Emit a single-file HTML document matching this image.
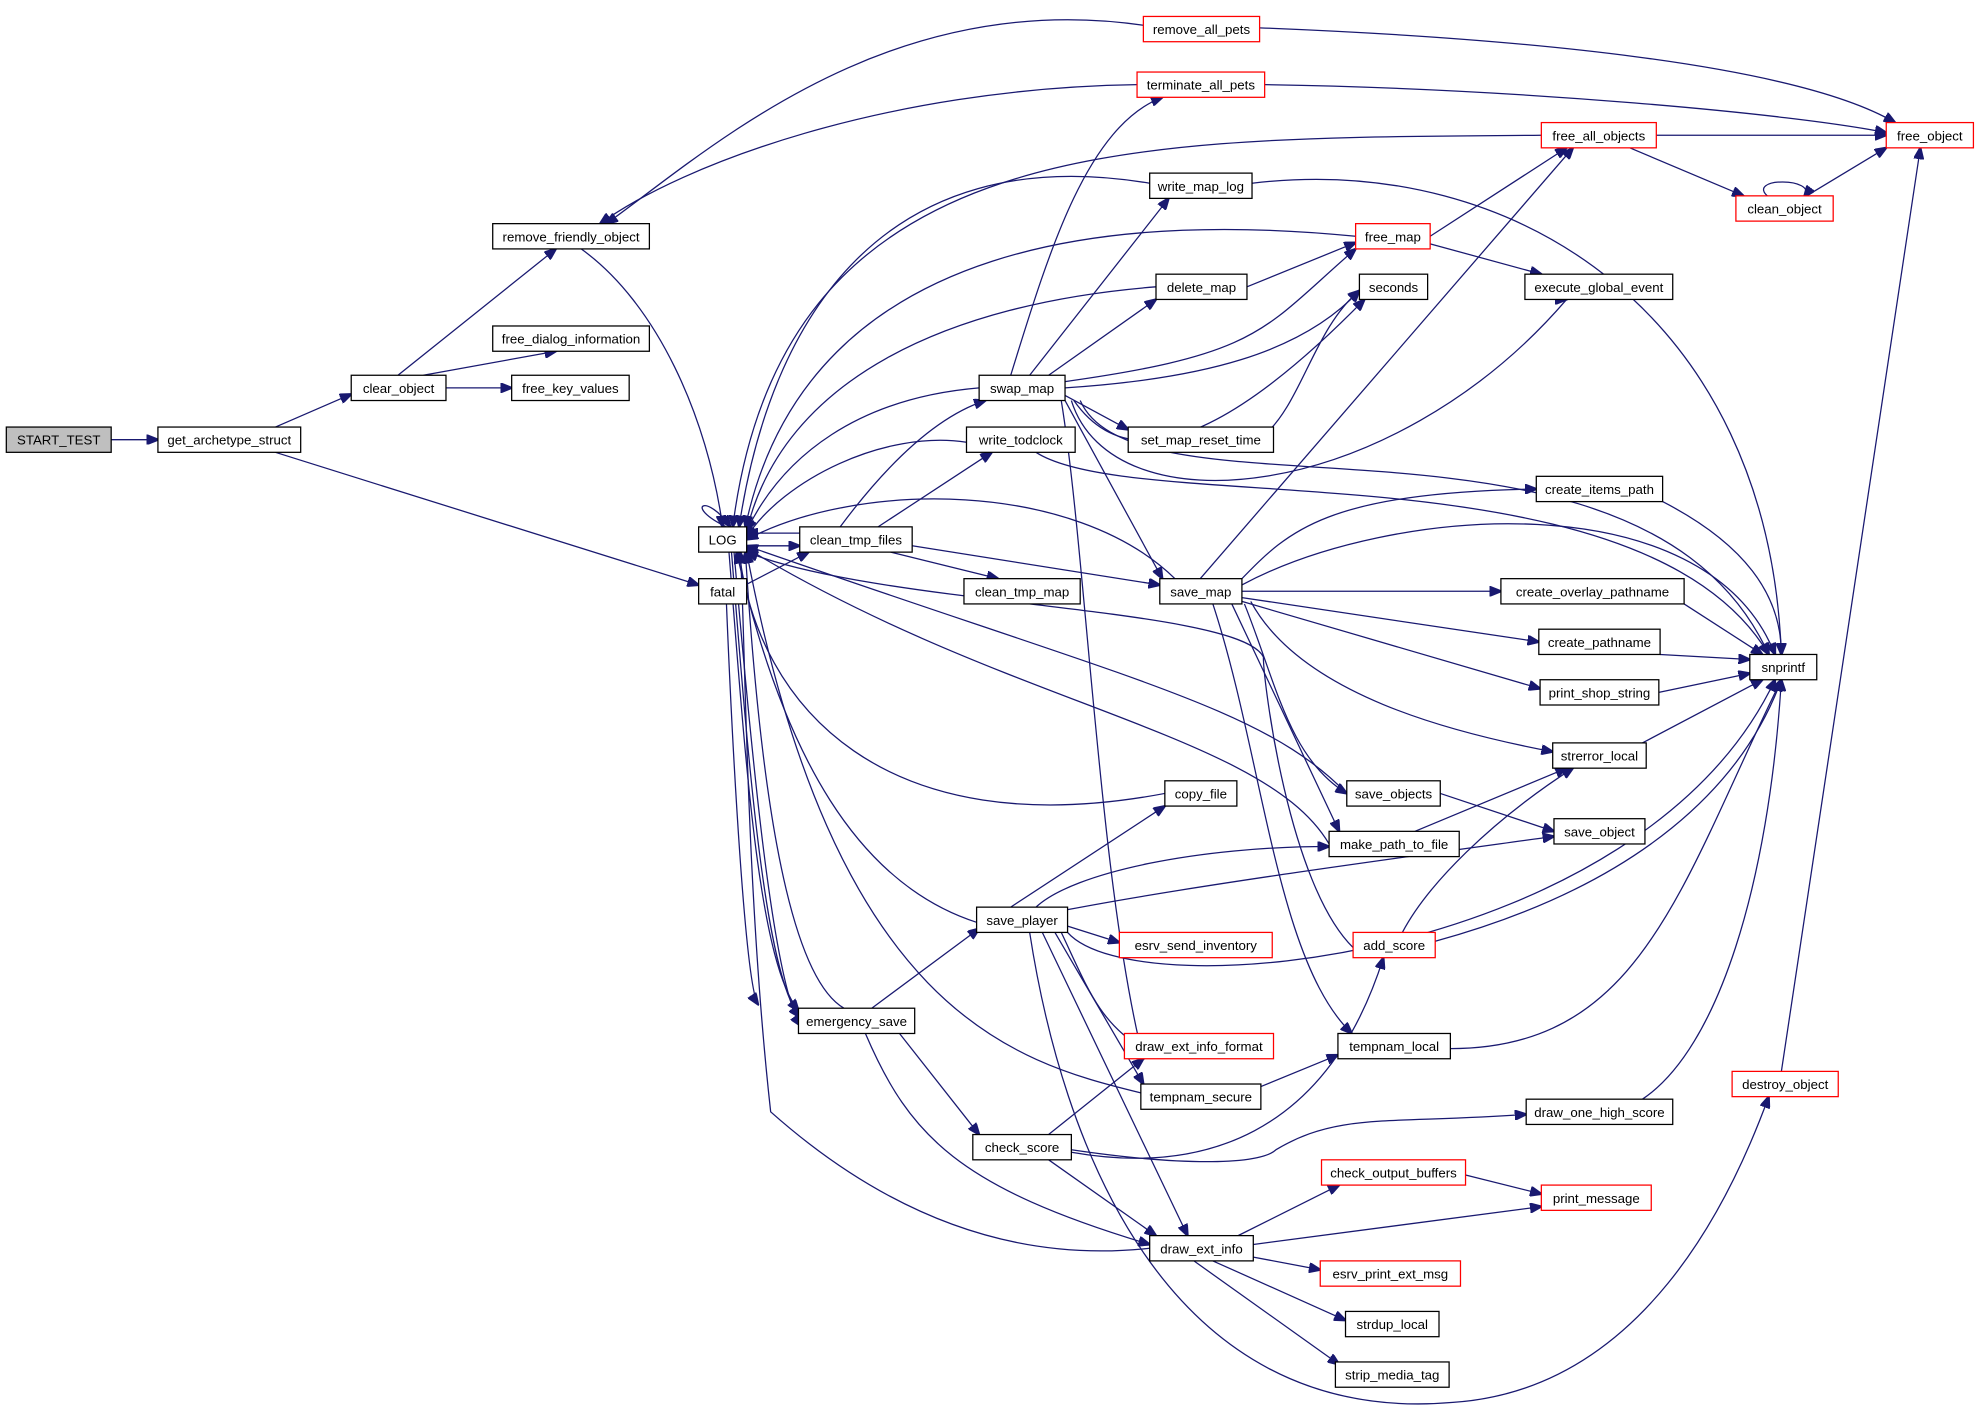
<!DOCTYPE html>
<html><head><meta charset="utf-8"><style>
html,body{margin:0;padding:0;background:#fff;}
svg text{font-family:"Liberation Sans",sans-serif;font-size:10.5px;text-anchor:middle;fill:#000;}
.n{fill:#fff;stroke:#000;stroke-width:1;}
.r{fill:#fff;stroke:#ff0000;stroke-width:1;}
.e{fill:none;stroke:#191970;stroke-width:1;}
</style></head><body>
<svg width="1981" height="1422" viewBox="0 0 1568 1125.5" xmlns="http://www.w3.org/2000/svg">
<defs><marker id="a" markerWidth="10" markerHeight="8" refX="9" refY="4" orient="auto" markerUnits="userSpaceOnUse"><path d="M0,0 L10,4 L0,8 z" fill="#191970" stroke="#191970"/></marker></defs>
<g marker-end="url(#a)">
<path class="e" d="M88,348 L125,348"/>
<path class="e" d="M218,338 L278,312"/>
<path class="e" d="M218,358 L553,463"/>
<path class="e" d="M315,297 L440,197"/>
<path class="e" d="M335,297 L440,278"/>
<path class="e" d="M353,307 L405,307"/>
<path class="e" d="M460,197 C520,240 560,330 572,417"/>
<path class="e" d="M575,417 C540,400 560,390 578,417"/>
<path class="e" d="M575,478 C580,600 590,780 600,795"/>
<path class="e" d="M590,463 L640,437"/>
<path class="e" d="M633,422 L591,422"/>
<path class="e" d="M591,432 L633,432"/>
<path class="e" d="M665,417 C700,370 740,330 780,317"/>
<path class="e" d="M695,417 L785,358"/>
<path class="e" d="M722,432 L918,463"/>
<path class="e" d="M705,437 L790,458"/>
<path class="e" d="M905,20 C700,-10 560,120 480,177"/>
<path class="e" d="M900,67 C700,70 540,130 475,177"/>
<path class="e" d="M997,22 C1200,30 1420,50 1500,97"/>
<path class="e" d="M1001,67 C1200,70 1420,90 1493,105"/>
<path class="e" d="M1220,107 C900,110 620,100 580,417"/>
<path class="e" d="M1311,107 L1493,107"/>
<path class="e" d="M1290,117 L1380,155"/>
<path class="e" d="M1430,155 L1493,117"/>
<path class="e" d="M1400,156 C1380,140 1440,140 1428,156"/>
<path class="e" d="M910,145 C700,110 610,250 585,417"/>
<path class="e" d="M991,145 C1200,120 1400,250 1410,518"/>
<path class="e" d="M1073,187 C900,170 640,180 590,417"/>
<path class="e" d="M1132,187 L1240,117"/>
<path class="e" d="M1132,193 L1220,217"/>
<path class="e" d="M915,227 C750,240 620,300 591,420"/>
<path class="e" d="M987,227 L1073,192"/>
<path class="e" d="M800,297 C830,200 860,100 920,77"/>
<path class="e" d="M815,297 L925,157"/>
<path class="e" d="M830,297 L915,237"/>
<path class="e" d="M843,302 C1000,280 1000,260 1073,197"/>
<path class="e" d="M843,307 C950,300 1030,280 1076,230"/>
<path class="e" d="M843,313 L893,340"/>
<path class="e" d="M775,307 C680,315 620,360 591,420"/>
<path class="e" d="M843,317 L920,458"/>
<path class="e" d="M840,317 C860,440 870,700 905,838"/>
<path class="e" d="M850,317 C880,360 940,380 1080,237"/>
<path class="e" d="M848,317 C880,420 1100,400 1240,237 M1240,237 "/>
<path class="e" d="M855,317 C900,420 1300,300 1400,518"/>
<path class="e" d="M765,350 C700,340 620,380 591,425"/>
<path class="e" d="M820,358 C900,410 1300,350 1400,518"/>
<path class="e" d="M1000,345 C1030,320 1040,260 1076,230"/>
<path class="e" d="M930,458 C850,380 680,380 591,427"/>
<path class="e" d="M950,458 L1245,117"/>
<path class="e" d="M983,458 C1020,420 1050,390 1216,387"/>
<path class="e" d="M983,463 C1100,400 1350,380 1405,518"/>
<path class="e" d="M983,468 L1188,468"/>
<path class="e" d="M983,473 L1218,508"/>
<path class="e" d="M983,476 L1219,545"/>
<path class="e" d="M990,476 C1030,550 1150,580 1229,595"/>
<path class="e" d="M985,478 C1010,540 1020,600 1066,628"/>
<path class="e" d="M975,478 L1060,658"/>
<path class="e" d="M960,478 C1000,600 1010,760 1070,818"/>
<path class="e" d="M1066,628 C1000,560 900,540 591,432"/>
<path class="e" d="M1140,628 L1230,658"/>
<path class="e" d="M1120,658 L1240,608"/>
<path class="e" d="M1052,668 C1000,580 800,560 591,434"/>
<path class="e" d="M1316,397 C1380,430 1410,470 1410,518"/>
<path class="e" d="M1333,478 L1395,518"/>
<path class="e" d="M1314,518 L1385,522"/>
<path class="e" d="M1313,548 L1385,533"/>
<path class="e" d="M1300,588 L1395,538"/>
<path class="e" d="M922,628 C700,670 600,560 585,437"/>
<path class="e" d="M773,730 C680,700 620,600 583,437"/>
<path class="e" d="M800,718 L922,638"/>
<path class="e" d="M820,718 C850,690 950,670 1052,670"/>
<path class="e" d="M845,720 C950,700 1100,680 1230,662"/>
<path class="e" d="M845,733 L886,746"/>
<path class="e" d="M840,738 C860,780 870,810 905,830"/>
<path class="e" d="M835,738 L905,858"/>
<path class="e" d="M845,738 C900,800 1300,760 1405,538"/>
<path class="e" d="M825,738 L940,978"/>
<path class="e" d="M815,738 C840,900 920,1130 1150,1110 C1300,1100 1370,950 1400,868"/>
<path class="e" d="M1071,750 C1020,700 1000,540 1000,520 C980,480 700,480 591,437"/>
<path class="e" d="M1110,738 C1130,700 1180,650 1245,608"/>
<path class="e" d="M1136,745 C1300,700 1380,620 1410,538"/>
<path class="e" d="M1148,830 C1300,830 1330,700 1410,538"/>
<path class="e" d="M998,860 L1059,835"/>
<path class="e" d="M903,865 C800,840 660,800 591,437"/>
<path class="e" d="M1300,870 C1360,830 1400,700 1410,538"/>
<path class="e" d="M1410,848 L1520,117"/>
<path class="e" d="M1160,930 L1220,945"/>
<path class="e" d="M848,910 C950,925 1000,920 1010,910 C1060,880 1100,890 1208,882"/>
<path class="e" d="M848,912 C950,930 1050,900 1095,758"/>
<path class="e" d="M830,898 L905,838"/>
<path class="e" d="M830,918 L915,978"/>
<path class="e" d="M910,988 C800,1000 700,960 610,880 C590,700 590,500 586,437"/>
<path class="e" d="M980,978 L1060,938"/>
<path class="e" d="M992,985 L1220,955"/>
<path class="e" d="M992,995 L1045,1005"/>
<path class="e" d="M960,998 L1065,1045"/>
<path class="e" d="M945,998 L1060,1080"/>
<path class="e" d="M690,798 L775,735"/>
<path class="e" d="M712,818 L775,898"/>
<path class="e" d="M685,818 C720,900 760,940 910,985"/>
<path class="e" d="M668,798 C620,770 600,600 590,437"/>
<path class="e" d="M577,437 C590,600 600,760 632,800"/>
<path class="e" d="M579,437 C592,600 605,770 633,805"/>
<path class="e" d="M581,437 C595,600 612,780 634,812"/>
</g>
<rect x="5" y="338" width="83" height="20" fill="#bfbfbf" stroke="#000"/><text x="46.5" y="352">START_TEST</text>
<g>
<rect class="n" x="125" y="338" width="113" height="20"/><text x="181.5" y="352">get_archetype_struct</text>
<rect class="n" x="278" y="297" width="75" height="20"/><text x="315.5" y="311">clear_object</text>
<rect class="n" x="390" y="177" width="124" height="20"/><text x="452" y="191">remove_friendly_object</text>
<rect class="n" x="390" y="258" width="124" height="20"/><text x="452" y="272">free_dialog_information</text>
<rect class="n" x="405" y="297" width="93" height="20"/><text x="451.5" y="311">free_key_values</text>
<rect class="n" x="553" y="417" width="38" height="20"/><text x="572" y="431">LOG</text>
<rect class="n" x="553" y="458" width="38" height="20"/><text x="572" y="472">fatal</text>
<rect class="n" x="633" y="417" width="89" height="20"/><text x="677.5" y="431">clean_tmp_files</text>
<rect class="n" x="632" y="798" width="92" height="20"/><text x="678" y="812">emergency_save</text>
<rect class="r" x="905" y="13" width="92" height="20"/><text x="951" y="27">remove_all_pets</text>
<rect class="r" x="900" y="57" width="101" height="20"/><text x="950.5" y="71">terminate_all_pets</text>
<rect class="n" x="910" y="137" width="81" height="20"/><text x="950.5" y="151">write_map_log</text>
<rect class="n" x="915" y="217" width="72" height="20"/><text x="951" y="231">delete_map</text>
<rect class="n" x="775" y="297" width="68" height="20"/><text x="809" y="311">swap_map</text>
<rect class="n" x="765" y="338" width="86" height="20"/><text x="808" y="352">write_todclock</text>
<rect class="n" x="893" y="338" width="115" height="20"/><text x="950.5" y="352">set_map_reset_time</text>
<rect class="n" x="763" y="458" width="92" height="20"/><text x="809" y="472">clean_tmp_map</text>
<rect class="n" x="918" y="458" width="65" height="20"/><text x="950.5" y="472">save_map</text>
<rect class="n" x="922" y="618" width="57" height="20"/><text x="950.5" y="632">copy_file</text>
<rect class="n" x="773" y="718" width="72" height="20"/><text x="809" y="732">save_player</text>
<rect class="r" x="886" y="738" width="121" height="20"/><text x="946.5" y="752">esrv_send_inventory</text>
<rect class="r" x="890" y="818" width="118" height="20"/><text x="949" y="832">draw_ext_info_format</text>
<rect class="n" x="903" y="858" width="95" height="20"/><text x="950.5" y="872">tempnam_secure</text>
<rect class="n" x="770" y="898" width="78" height="20"/><text x="809" y="912">check_score</text>
<rect class="n" x="910" y="978" width="82" height="20"/><text x="951" y="992">draw_ext_info</text>
<rect class="r" x="1220" y="97" width="91" height="20"/><text x="1265.5" y="111">free_all_objects</text>
<rect class="r" x="1073" y="177" width="59" height="20"/><text x="1102.5" y="191">free_map</text>
<rect class="n" x="1076" y="217" width="54" height="20"/><text x="1103" y="231">seconds</text>
<rect class="n" x="1207" y="217" width="117" height="20"/><text x="1265.5" y="231">execute_global_event</text>
<rect class="n" x="1216" y="377" width="100" height="20"/><text x="1266" y="391">create_items_path</text>
<rect class="n" x="1188" y="458" width="145" height="20"/><text x="1260.5" y="472">create_overlay_pathname</text>
<rect class="n" x="1218" y="498" width="96" height="20"/><text x="1266" y="512">create_pathname</text>
<rect class="n" x="1219" y="538" width="94" height="20"/><text x="1266" y="552">print_shop_string</text>
<rect class="n" x="1229" y="588" width="74" height="20"/><text x="1266" y="602">strerror_local</text>
<rect class="n" x="1066" y="618" width="74" height="20"/><text x="1103" y="632">save_objects</text>
<rect class="n" x="1052" y="658" width="103" height="20"/><text x="1103.5" y="672">make_path_to_file</text>
<rect class="n" x="1230" y="648" width="72" height="20"/><text x="1266" y="662">save_object</text>
<rect class="r" x="1071" y="738" width="65" height="20"/><text x="1103.5" y="752">add_score</text>
<rect class="n" x="1059" y="818" width="89" height="20"/><text x="1103.5" y="832">tempnam_local</text>
<rect class="n" x="1208" y="870" width="116" height="20"/><text x="1266" y="884">draw_one_high_score</text>
<rect class="r" x="1046" y="918" width="114" height="20"/><text x="1103" y="932">check_output_buffers</text>
<rect class="r" x="1220" y="938" width="87" height="20"/><text x="1263.5" y="952">print_message</text>
<rect class="r" x="1045" y="998" width="111" height="20"/><text x="1100.5" y="1012">esrv_print_ext_msg</text>
<rect class="n" x="1065" y="1038" width="74" height="20"/><text x="1102" y="1052">strdup_local</text>
<rect class="n" x="1057" y="1078" width="90" height="20"/><text x="1102" y="1092">strip_media_tag</text>
<rect class="r" x="1493" y="97" width="69" height="20"/><text x="1527.5" y="111">free_object</text>
<rect class="r" x="1374" y="155" width="77" height="20"/><text x="1412.5" y="169">clean_object</text>
<rect class="n" x="1385" y="518" width="53" height="20"/><text x="1411.5" y="532">snprintf</text>
<rect class="r" x="1371" y="848" width="84" height="20"/><text x="1413" y="862">destroy_object</text>
</g>
</svg>
</body></html>
